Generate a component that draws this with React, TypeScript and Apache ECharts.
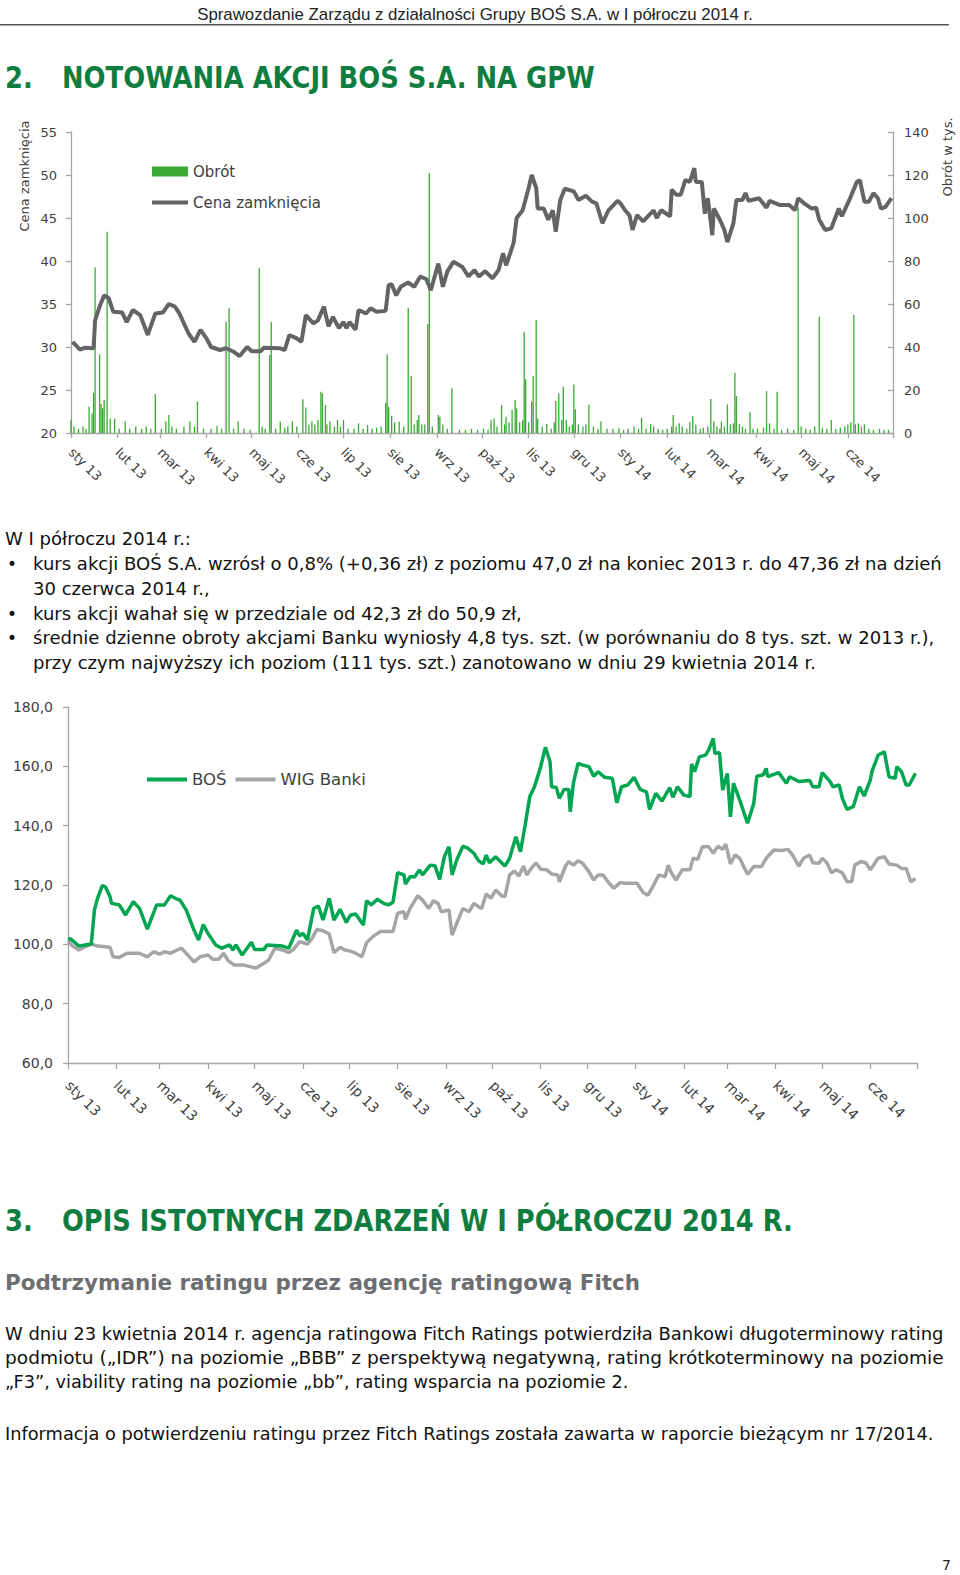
import React, { useEffect, useRef } from 'react';
import * as echarts from 'echarts';

// ---------- DATA ----------
// x positions are calendar days counted from 1 Jan 2013
const monthLabels = ['sty 13', 'lut 13', 'mar 13', 'kwi 13', 'maj 13', 'cze 13', 'lip 13', 'sie 13', 'wrz 13', 'paź 13', 'lis 13', 'gru 13', 'sty 14', 'lut 14', 'mar 14', 'kwi 14', 'maj 14', 'cze 14'];

const priceDay = [1, 6, 9, 15, 16, 19, 22, 25, 28, 34, 37, 41, 46, 51, 56, 61, 65, 69, 72, 78, 82, 86, 90, 93, 99, 103, 108, 112, 117, 120, 126, 128, 139, 142, 145, 150, 153, 156, 161, 164, 168, 171, 174, 178, 181, 183, 185, 189, 191, 196, 199, 203, 209, 211, 213, 216, 219, 224, 228, 232, 236, 239, 244, 247, 250, 254, 260, 264, 268, 271, 275, 280, 284, 287, 289, 294, 296, 300, 304, 306, 309, 310, 314, 317, 320, 322, 325, 328, 334, 337, 342, 346, 349, 353, 357, 363, 365, 368, 371, 373, 376, 380, 387, 389, 392, 398, 399, 402, 405, 408, 411, 414, 415, 419, 421, 423, 426, 427, 431, 434, 436, 440, 442, 446, 448, 450, 457, 462, 464, 471, 477, 481, 483, 487, 492, 495, 497, 501, 505, 510, 512, 517, 522, 524, 527, 530, 533, 536, 538, 541, 545];
const priceClose = [30.6, 29.7, 29.9, 29.85, 33.1, 34.7, 36.0, 35.7, 34.1, 34.0, 32.9, 34.3, 33.7, 31.4, 33.9, 34.0, 35.0, 34.7, 33.9, 31.6, 30.6, 32.0, 31.0, 30.0, 29.65, 29.85, 29.45, 28.95, 30.0, 29.5, 29.5, 29.9, 29.85, 29.65, 31.4, 31.0, 30.6, 33.7, 32.75, 33.1, 34.7, 32.4, 33.5, 32.2, 32.9, 32.2, 32.9, 32.0, 34.3, 33.9, 34.5, 34.1, 34.2, 37.2, 37.3, 36.0, 37.0, 37.5, 37.0, 38.2, 37.9, 36.6, 39.7, 37.0, 38.8, 39.9, 39.3, 38.2, 38.95, 38.2, 38.8, 38.0, 38.95, 40.9, 39.5, 42.1, 45.0, 45.9, 48.5, 50.0, 48.5, 46.1, 46.1, 44.8, 45.9, 43.4, 47.1, 48.4, 48.1, 47.1, 47.6, 46.9, 46.7, 44.4, 45.9, 47.0, 46.7, 45.9, 45.3, 43.6, 45.35, 44.6, 45.9, 45.0, 45.9, 45.2, 48.3, 47.7, 47.7, 49.4, 49.2, 50.8, 49.2, 49.2, 45.5, 47.3, 43.0, 46.1, 44.8, 43.6, 42.2, 44.4, 47.1, 47.1, 47.9, 47.0, 47.3, 46.2, 47.0, 46.5, 46.5, 45.9, 47.3, 46.7, 46.1, 46.2, 44.8, 43.6, 43.8, 46.1, 45.2, 47.1, 49.2, 49.4, 46.9, 46.9, 47.9, 47.3, 46.1, 46.3, 47.3];

const turnoverDay = [0, 2, 5, 8, 10, 12, 14, 15, 16, 19, 20, 21, 22, 24, 26, 29, 32, 36, 39, 43, 47, 50, 53, 56, 60, 63, 65, 67, 70, 75, 79, 82, 84, 88, 93, 97, 100, 103, 105, 108, 111, 115, 119, 125, 127, 129, 132, 133, 136, 139, 142, 144, 147, 150, 154, 156, 158, 160, 162, 164, 166, 167, 169, 170, 172, 175, 177, 179, 181, 184, 188, 191, 194, 197, 200, 203, 206, 209, 210, 211, 213, 215, 218, 221, 224, 226, 228, 230, 231, 233, 235, 237, 238, 240, 244, 245, 247, 250, 253, 258, 262, 266, 270, 274, 277, 279, 281, 283, 286, 288, 289, 291, 293, 295, 296, 298, 300, 301, 302, 304, 306, 307, 309, 310, 313, 316, 319, 321, 322, 324, 326, 327, 329, 331, 333, 334, 335, 337, 340, 342, 344, 347, 350, 352, 356, 360, 364, 367, 370, 374, 377, 379, 382, 385, 387, 390, 393, 396, 399, 400, 402, 404, 406, 409, 411, 413, 415, 418, 420, 423, 425, 427, 429, 431, 432, 434, 436, 438, 440, 441, 442, 444, 446, 448, 451, 453, 456, 460, 462, 464, 467, 469, 472, 476, 480, 483, 485, 488, 491, 494, 497, 499, 502, 505, 508, 511, 514, 516, 518, 520, 521, 523, 525, 527, 530, 533, 537, 540, 543];
const turnoverK = [6, 3, 2, 3, 2, 12.2, 9.1, 18.7, 77, 36.6, 13.5, 11.5, 15.3, 93.6, 6.8, 6.8, 2, 5.3, 2, 3, 2, 3, 2, 18.1, 2, 5.3, 8.4, 3, 2, 3, 5.3, 3, 14.6, 2, 2, 3.3, 2, 51.8, 58, 2, 5.3, 2, 1.5, 76.6, 3, 2, 36.3, 51.8, 2, 5.3, 2.5, 3, 5.3, 3, 15.7, 11.9, 4, 5.3, 4, 6, 19.2, 18.5, 13, 4, 5.3, 3, 6, 3, 6, 2, 2, 4.5, 2, 3.7, 2, 2.5, 3, 14.1, 36.6, 12.2, 8, 5, 5.3, 3, 58.3, 26.5, 4, 6, 8.4, 4, 4, 50.7, 120.8, 3, 8.4, 7.6, 4, 2, 20.8, 1.5, 1.5, 2, 1.5, 2, 1.5, 6, 6.8, 3, 12.9, 4, 7.6, 5, 10.7, 15.3, 11.5, 5, 6, 47.1, 25, 5, 14.6, 26.5, 52.6, 6.8, 3, 4.2, 2, 5, 14.9, 18.4, 6, 21.5, 6, 3, 4, 22.6, 11, 4, 3, 4, 13.3, 3, 2, 5.3, 2, 2, 2.5, 1.5, 2, 3, 2, 7.1, 2, 4.2, 3, 2, 1.5, 2, 3, 8.4, 3, 4.5, 3, 2, 5, 7.9, 4, 2, 2.5, 3, 15.8, 5.3, 3, 2, 5.3, 3, 13.3, 4, 4.5, 28, 17.2, 4.2, 3, 2, 9.9, 2, 2, 2.5, 19.5, 4.5, 2, 19.2, 1.5, 2, 1.5, 105, 3, 2, 1.5, 3, 54.1, 2.5, 2, 6, 2, 2.5, 3, 4, 5, 54.9, 4, 4.5, 3, 4, 2, 1.5, 2, 1.5, 1.5];

const bosDay = [0, 2, 7, 11, 15, 17, 19, 22, 24, 27, 28, 33, 37, 42, 46, 51, 57, 62, 66, 69, 72, 76, 81, 84, 87, 90, 95, 99, 104, 106, 108, 112, 118, 120, 126, 128, 138, 142, 147, 149, 151, 154, 158, 161, 164, 168, 171, 175, 179, 181, 182, 185, 190, 192, 195, 199, 203, 206, 209, 212, 216, 217, 220, 223, 226, 228, 233, 236, 239, 242, 245, 247, 250, 254, 257, 261, 264, 267, 269, 271, 275, 278, 281, 284, 288, 291, 294, 297, 300, 304, 307, 310, 311, 314, 316, 319, 322, 323, 325, 328, 331, 335, 338, 341, 345, 350, 353, 356, 360, 364, 368, 372, 374, 378, 382, 387, 389, 392, 396, 400, 401, 403, 406, 410, 412, 415, 416, 419, 421, 424, 426, 428, 432, 437, 441, 443, 447, 449, 450, 457, 462, 464, 470, 477, 479, 483, 485, 490, 492, 496, 498, 501, 505, 509, 512, 516, 517, 521, 525, 528, 532, 533, 536, 539, 541, 545];
const bosIndex = [102.0, 101.7, 99.4, 99.8, 100.1, 111.6, 115.5, 119.8, 119.4, 116.1, 113.8, 113.3, 109.9, 114.4, 112.1, 105.1, 113.3, 113.3, 116.4, 115.5, 114.9, 111.6, 104.8, 101.5, 106.7, 103.7, 99.8, 98.7, 99.8, 98.1, 99.8, 96.4, 100.7, 98.3, 98.3, 99.8, 99.4, 98.7, 104.8, 102.8, 103.7, 101.5, 112.1, 112.9, 108.2, 115.5, 108.2, 111.8, 107.4, 109.3, 109.9, 110.2, 106.5, 114.7, 113.3, 115.2, 113.8, 113.3, 114.2, 124.2, 123.4, 120.3, 122.8, 122.8, 125.1, 123.4, 126.7, 126.5, 121.9, 129.5, 132.9, 123.4, 128.4, 133.1, 132.4, 130.7, 128.2, 127.1, 130.1, 127.5, 129.5, 127.9, 126.4, 129.0, 136.3, 131.2, 140.2, 149.8, 153.1, 159.9, 166.4, 161.6, 153.1, 152.9, 149.2, 152.2, 152.2, 144.7, 154.3, 161.0, 160.4, 159.9, 156.7, 158.2, 156.3, 156.0, 147.7, 153.1, 153.7, 156.3, 152.2, 151.4, 145.5, 150.9, 148.3, 152.8, 149.6, 153.1, 150.3, 149.8, 160.8, 158.2, 163.2, 163.8, 165.5, 169.4, 164.4, 164.6, 152.0, 157.6, 143.0, 154.3, 148.6, 140.8, 147.5, 156.7, 157.1, 159.3, 156.5, 157.9, 154.3, 156.5, 154.9, 155.2, 153.1, 153.1, 157.9, 154.9, 153.1, 153.7, 149.2, 145.5, 146.4, 153.1, 150.0, 155.4, 158.2, 163.8, 164.9, 156.5, 156.0, 159.9, 158.2, 153.7, 153.7, 157.6];

const wigDay = [0, 3, 7, 11, 15, 19, 24, 27, 29, 33, 38, 46, 51, 55, 59, 62, 66, 69, 73, 77, 81, 85, 90, 93, 97, 100, 103, 107, 113, 117, 121, 126, 129, 133, 138, 142, 145, 149, 154, 157, 160, 164, 168, 171, 175, 178, 181, 185, 189, 192, 196, 201, 205, 209, 212, 216, 217, 220, 225, 228, 232, 235, 238, 240, 245, 247, 250, 254, 258, 261, 264, 266, 269, 272, 275, 279, 281, 284, 287, 290, 293, 295, 298, 301, 304, 308, 311, 315, 316, 320, 322, 325, 328, 331, 335, 338, 341, 344, 348, 351, 355, 359, 366, 368, 370, 373, 376, 380, 384, 386, 388, 391, 395, 400, 402, 405, 408, 412, 415, 418, 421, 423, 426, 429, 432, 437, 441, 446, 449, 454, 459, 463, 466, 470, 473, 477, 479, 483, 485, 488, 491, 494, 498, 501, 504, 506, 510, 513, 516, 521, 525, 528, 533, 536, 539, 542, 545];
const wigIndex = [101.2, 99.4, 98.1, 99.2, 100.1, 99.4, 99.2, 99.0, 95.8, 95.6, 97.0, 97.0, 95.8, 97.5, 96.7, 97.5, 97.0, 97.8, 98.7, 96.4, 94.1, 95.8, 96.4, 95.0, 95.0, 97.0, 94.5, 93.0, 93.0, 92.5, 92.0, 93.6, 94.7, 98.7, 98.1, 97.2, 98.3, 100.9, 100.1, 102.0, 105.0, 104.6, 103.5, 97.2, 99.0, 98.1, 97.8, 97.0, 95.8, 100.5, 102.6, 104.3, 104.3, 104.3, 110.5, 111.0, 108.4, 112.1, 116.4, 114.9, 112.1, 114.7, 113.8, 111.0, 111.6, 103.1, 107.1, 112.1, 111.0, 113.8, 112.7, 112.1, 117.0, 115.5, 118.3, 116.3, 116.1, 123.4, 124.7, 123.0, 126.4, 123.4, 125.6, 127.5, 125.3, 125.1, 123.7, 123.4, 121.1, 126.4, 127.9, 126.7, 128.2, 127.3, 124.5, 121.7, 123.4, 123.4, 120.6, 118.9, 120.8, 120.6, 120.6, 118.9, 117.4, 116.6, 119.4, 123.4, 122.8, 126.7, 124.1, 121.7, 125.1, 125.1, 129.0, 128.7, 132.9, 132.9, 130.7, 133.1, 132.0, 133.8, 127.1, 130.1, 129.0, 123.6, 126.2, 126.2, 129.0, 131.8, 131.6, 132.0, 130.1, 126.4, 129.0, 130.1, 127.5, 127.3, 129.0, 127.5, 124.1, 125.1, 124.1, 121.1, 121.1, 126.7, 127.9, 127.5, 125.1, 129.0, 129.5, 127.1, 126.7, 125.6, 125.6, 121.1, 122.2];

// ---------- TEXTS ----------
const headerText = 'Sprawozdanie Zarządu z działalności Grupy BOŚ S.A. w I półroczu 2014 r.';
const section2Num = '2.';
const section2Title = 'NOTOWANIA AKCJI BOŚ S.A. NA GPW';
const bodyIntro = 'W I półroczu 2014 r.:';
const bodyLines = [
  'kurs akcji BOŚ S.A. wzrósł o 0,8% (+0,36 zł) z poziomu 47,0 zł na koniec 2013 r. do 47,36 zł na dzień',
  '30 czerwca 2014 r.,',
  'kurs akcji wahał się w przedziale od 42,3 zł do 50,9 zł,',
  'średnie dzienne obroty akcjami Banku wyniosły 4,8 tys. szt. (w porównaniu do 8 tys. szt. w 2013 r.),',
  'przy czym najwyższy ich poziom (111 tys. szt.) zanotowano w dniu 29 kwietnia 2014 r.',
];
const bodyBullets = [true, false, true, true, false];
const section3Num = '3.';
const section3Title = 'OPIS ISTOTNYCH ZDARZEŃ W I PÓŁROCZU 2014 R.';
const subTitle = 'Podtrzymanie ratingu przez agencję ratingową Fitch';
const paraLines = [
  'W dniu 23 kwietnia 2014 r. agencja ratingowa Fitch Ratings potwierdziła Bankowi długoterminowy rating',
  'podmiotu („IDR”) na poziomie „BBB” z perspektywą negatywną, rating krótkoterminowy na poziomie',
  '„F3”, viability rating na poziomie „bb”, rating wsparcia na poziomie 2.',
];
const infoLine = 'Informacja o potwierdzeniu ratingu przez Fitch Ratings została zawarta w raporcie bieżącym nr 17/2014.';
const pageNumber = '7';

const FONT = '"DejaVu Sans", Verdana, sans-serif';
const AX = '#a6a6a6';
const LBL = '#404040';
const GREEN_HEAD = '#0f7d40';

export default function App() {
  const ref = useRef<HTMLDivElement>(null);
  useEffect(() => {
    if (!ref.current) return;
    const chart = echarts.init(ref.current, undefined, { renderer: 'svg' });
    const DAY = 86400000;
    const base = new Date(2013, 0, 1).getTime();
    const monthStart = Array.from({ length: 19 }, (_, m) => Math.round((new Date(2013, m, 1).getTime() - base) / DAY));
    const monthFmt = (v: number) => {
      const i = monthStart.indexOf(Math.round(v));
      return i >= 0 && i < monthLabels.length ? monthLabels[i] : '';
    };
    const zip = (a: number[], b: number[]) => a.map((d, i) => [d, b[i]]);

    const ctx = document.createElement('canvas').getContext('2d')!;
    const measure = (text: string, font: string) => { ctx.font = font; return ctx.measureText(text).width; };
    const fontStr = (size: number, weight = 'normal', fam = FONT) => `${weight} ${size}px ${fam}`;
    const txt = (text: string, x: number, y: number, font: string, fill: string, scaleX = 1, align = 'left', rotation = 0) => ({
      type: 'text', x, y, scaleX, rotation, z: 10,
      style: { text, font, fill, textAlign: align, textVerticalAlign: 'middle' },
    });
    const fit = (text: string, font: string, w: number) => w / measure(text, font);

    const elements: any[] = [];
    // header
    const hFont = fontStr(17, 'normal', '"Liberation Sans", Arial, sans-serif');
    elements.push(txt(headerText, 475, 14, hFont, '#222', fit(headerText, hFont, 556), 'center'));
    elements.push({ type: 'rect', shape: { x: 0, y: 24, width: 949, height: 1.6 }, style: { fill: '#555' } });
    // section 2 heading
    const headFont = fontStr(30, 'bold');
    const s2 = fit(section2Title, headFont, 533);
    elements.push(txt(section2Num, 5, 78, headFont, GREEN_HEAD, s2));
    elements.push(txt(section2Title, 62, 78, headFont, GREEN_HEAD, s2));
    // axis titles chart 1
    const tFont = fontStr(13);
    elements.push(txt('Cena zamknięcia', 24, 176, tFont, LBL, 1, 'center', Math.PI / 2));
    elements.push(txt('Obrót w tys.', 947, 157, tFont, LBL, 1, 'center', Math.PI / 2));
    // body
    const bFont = fontStr(17);
    const sb = fit(bodyLines[0], bFont, 909);
    elements.push(txt(bodyIntro, 5, 539, bFont, '#111', sb));
    const bodyY = [564, 589, 614, 638, 663];
    bodyLines.forEach((l, i) => {
      if (bodyBullets[i]) elements.push(txt('•', 7, bodyY[i], bFont, '#111'));
      elements.push(txt(l, 33, bodyY[i], bFont, '#111', sb));
    });
    // section 3
    const s3 = fit(section3Title, headFont, 731);
    elements.push(txt(section3Num, 5, 1221, headFont, GREEN_HEAD, s3));
    elements.push(txt(section3Title, 62, 1221, headFont, GREEN_HEAD, s3));
    const subFont = fontStr(22, 'bold');
    elements.push(txt(subTitle, 5, 1282, subFont, '#6d6e71', fit(subTitle, subFont, 635)));
    const sp = fit(infoLine, bFont, 929);
    const paraY = [1334, 1358, 1382];
    elements.push(txt(paraLines[0], 5, paraY[0], bFont, '#111', fit(paraLines[0], bFont, 939)));
    elements.push(txt(paraLines[1], 5, paraY[1], bFont, '#111', fit(paraLines[1], bFont, 939)));
    elements.push(txt(paraLines[2], 5, paraY[2], bFont, '#111', sp));
    elements.push(txt(infoLine, 5, 1434, bFont, '#111', sp));
    elements.push(txt(pageNumber, 942, 1565, fontStr(14), '#222'));

    const xAxisBase = (grid: number, fs: number, tickLen: number, margin: number) => ({
      type: 'value', gridIndex: grid, min: 0, max: monthStart[18],
      axisLine: { show: true, onZero: false, lineStyle: { color: AX, width: 1.3 } },
      axisTick: { show: true, customValues: monthStart, length: tickLen, lineStyle: { color: AX, width: 1.3 } },
      axisLabel: { show: true, customValues: monthStart.slice(0, 18), rotate: -45, margin, fontSize: fs, color: LBL, fontFamily: FONT, formatter: monthFmt },
      splitLine: { show: false },
    });
    const yAxisBase = (grid: number, min: number, max: number, interval: number, position: string, margin: number, fs: number, inside: boolean, fmt?: any) => ({
      type: 'value', gridIndex: grid, min, max, interval, position,
      axisLine: { show: true, lineStyle: { color: AX, width: 1.3 } },
      axisTick: { show: true, inside, length: 5, lineStyle: { color: AX, width: 1.3 } },
      axisLabel: { margin, fontSize: fs, color: LBL, fontFamily: FONT, formatter: fmt },
      splitLine: { show: false },
    });

    chart.setOption({
      animation: false,
      backgroundColor: '#ffffff',
      grid: [
        { left: 71, top: 132, width: 822, height: 301 },
        { left: 68, top: 707, width: 849, height: 356 },
      ],
      xAxis: [xAxisBase(0, 13, 5, 17), xAxisBase(1, 14, 6, 20)],
      yAxis: [
        yAxisBase(0, 20, 55, 5, 'left', 14, 13, false),
        yAxisBase(0, 0, 140, 20, 'right', 11, 13, true),
        yAxisBase(1, 60, 180, 20, 'left', 15, 14, false, (v: number) => v.toFixed(1).replace('.', ',')),
      ],
      legend: [
        { data: [{ name: 'Obrót', icon: 'rect' }], left: 152, top: 164, padding: 0, itemWidth: 36, itemHeight: 10, textStyle: { fontSize: 15, color: LBL, fontFamily: FONT } },
        { data: [{ name: 'Cena zamknięcia', icon: 'rect' }], left: 152, top: 195, padding: 0, itemWidth: 36, itemHeight: 4, textStyle: { fontSize: 15, color: LBL, fontFamily: FONT } },
        { data: [{ name: 'BOŚ', icon: 'rect' }, { name: 'WIG Banki', icon: 'rect' }], left: 147, top: 771, padding: 0, itemWidth: 40, itemHeight: 4, itemGap: 9, textStyle: { fontSize: 16.5, color: LBL, fontFamily: FONT } },
      ],
      series: [
        { name: 'Obrót', type: 'bar', xAxisIndex: 0, yAxisIndex: 1, data: zip(turnoverDay, turnoverK), barWidth: 1.3, itemStyle: { color: '#3aa935' }, z: 2 },
        { name: 'Cena zamknięcia', type: 'line', xAxisIndex: 0, yAxisIndex: 0, data: zip(priceDay, priceClose), symbol: 'none', showSymbol: false, lineStyle: { color: '#636466', width: 4 }, itemStyle: { color: '#636466' }, z: 3 },
        { name: 'WIG Banki', type: 'line', xAxisIndex: 1, yAxisIndex: 2, data: zip(wigDay, wigIndex), symbol: 'none', showSymbol: false, lineStyle: { color: '#a5a5a5', width: 3.5 }, itemStyle: { color: '#a5a5a5' }, z: 3 },
        { name: 'BOŚ', type: 'line', xAxisIndex: 1, yAxisIndex: 2, data: zip(bosDay, bosIndex), symbol: 'none', showSymbol: false, lineStyle: { color: '#00a651', width: 3.5 }, itemStyle: { color: '#00a651' }, z: 4 },
      ],
      graphic: { elements },
    });
    return () => chart.dispose();
  }, []);
  return <div ref={ref} style={{ position: 'absolute', left: 0, top: 0, width: 960, height: 1575, background: '#fff' }} />;
}
